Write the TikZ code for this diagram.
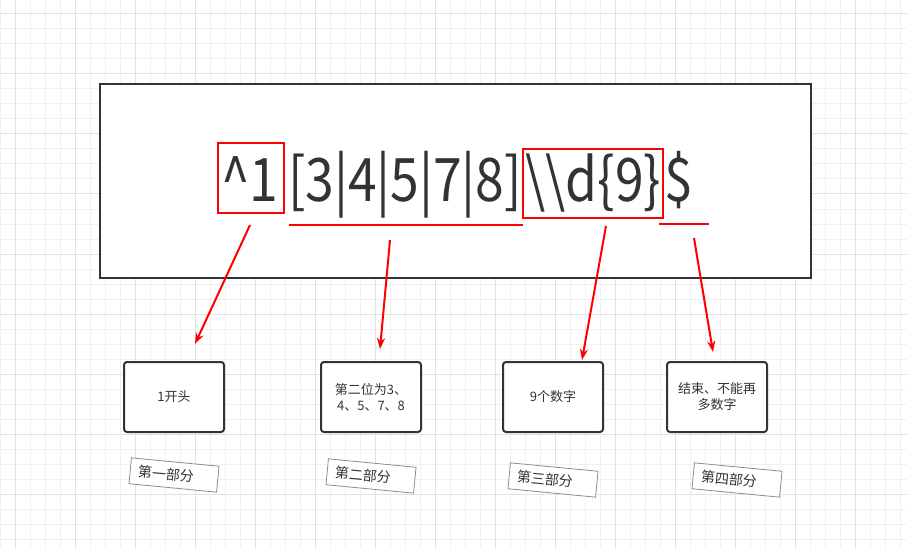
\documentclass[tikz,border=0pt]{standalone}
\usepackage{fontspec}
\setmainfont{Noto Sans CJK SC}
\newfontfamily\regexfont[FakeStretch=0.86]{Noto Sans CJK SC}
\usetikzlibrary{arrows.meta}
\definecolor{ink}{RGB}{51,51,51}
\definecolor{mark}{RGB}{255,0,0}
\definecolor{gridminor}{RGB}{240,240,240}
\definecolor{gridmajor}{RGB}{226,226,226}
\definecolor{tagline}{RGB}{140,140,140}

\begin{document}
\begin{tikzpicture}[
    x=1pt, y=-1pt,
    every node/.style={font=\fontsize{13}{16}\selectfont, text=ink},
    frame/.style={rectangle, draw=ink, line width=2pt, fill=white, minimum width=711pt, minimum height=194pt, inner sep=0pt},
    piece/.style={anchor=base west, inner sep=0pt, font=\regexfont\fontsize{60}{60}\selectfont},
    part/.style={rectangle, draw=ink, line width=2pt, rounded corners=3pt, fill=white, minimum width=100pt, minimum height=70pt, align=center},
    hlbox/.style={rectangle, draw=mark, line width=2pt, inner sep=0pt},
    tag/.style={rectangle, draw=tagline, line width=0.8pt, fill=white, rotate=-5.5, text width=72pt, inner xsep=8pt, minimum height=26pt, align=left, font=\fontsize{14}{16}\selectfont},
    arrow/.style={-{Stealth[length=11pt,width=8pt]}, draw=mark, line width=2pt},
    underline/.style={draw=mark, line width=2pt}
]
\useasboundingbox (0,0) rectangle (907,548);

% Raster
\foreach \gx in {0,15,...,900} \draw[gridminor, line width=1pt] (\gx,0) -- (\gx,548);
\foreach \gy in {14,29,...,548} \draw[gridminor, line width=1pt] (0,\gy) -- (907,\gy);
\foreach \gx in {15,75,...,900} \draw[gridmajor, line width=1pt] (\gx,0) -- (\gx,548);
\foreach \gy in {14,74,...,548} \draw[gridmajor, line width=1pt] (0,\gy) -- (907,\gy);

% Ausdruck
\node[frame] (frame) at (455.5,181) {};
\node[piece] (r1) at (221,202) {\textasciicircum 1};
\node[piece] (r2) at (288,202) {[3|4|5|7|8]};
\node[piece] (r3) at (525,202) {\textbackslash\textbackslash d\{9\}};
\node[piece] (r4) at (664,202) {\$};
\node[hlbox, minimum width=66pt, minimum height=70pt] (hl1) at (251,178) {};
\node[hlbox, minimum width=140pt, minimum height=69pt] (hl3) at (593,183.5) {};
\draw[underline] (289,225) -- (523,225);
\draw[underline] (659,224) -- (709,224);

% Teile
\node[part] (p1) at (174,397) {1开头};
\node[part] (p2) at (371,397) {第二位为3、\\4、5、7、8};
\node[part] (p3) at (553,397) {9个数字};
\node[part] (p4) at (717,397) {结束、不能再\\多数字};

\node[tag] (t1) at (174,475) {第一部分};
\node[tag] (t2) at (371,476) {第二部分};
\node[tag] (t3) at (553,480) {第三部分};
\node[tag] (t4) at (737,480) {第四部分};

% Pfeile
\coordinate (s1) at (250,225);
\coordinate (e1) at (195,344);
\coordinate (s2) at (390,240);
\coordinate (e2) at (380,349);
\coordinate (s3) at (606,226);
\coordinate (e3) at (582,360);
\coordinate (s4) at (694,238);
\coordinate (e4) at (713,352);
\draw[arrow] (s1) -- (e1);
\draw[arrow] (s2) -- (e2);
\draw[arrow] (s3) -- (e3);
\draw[arrow] (s4) -- (e4);

\end{tikzpicture}
\end{document}
